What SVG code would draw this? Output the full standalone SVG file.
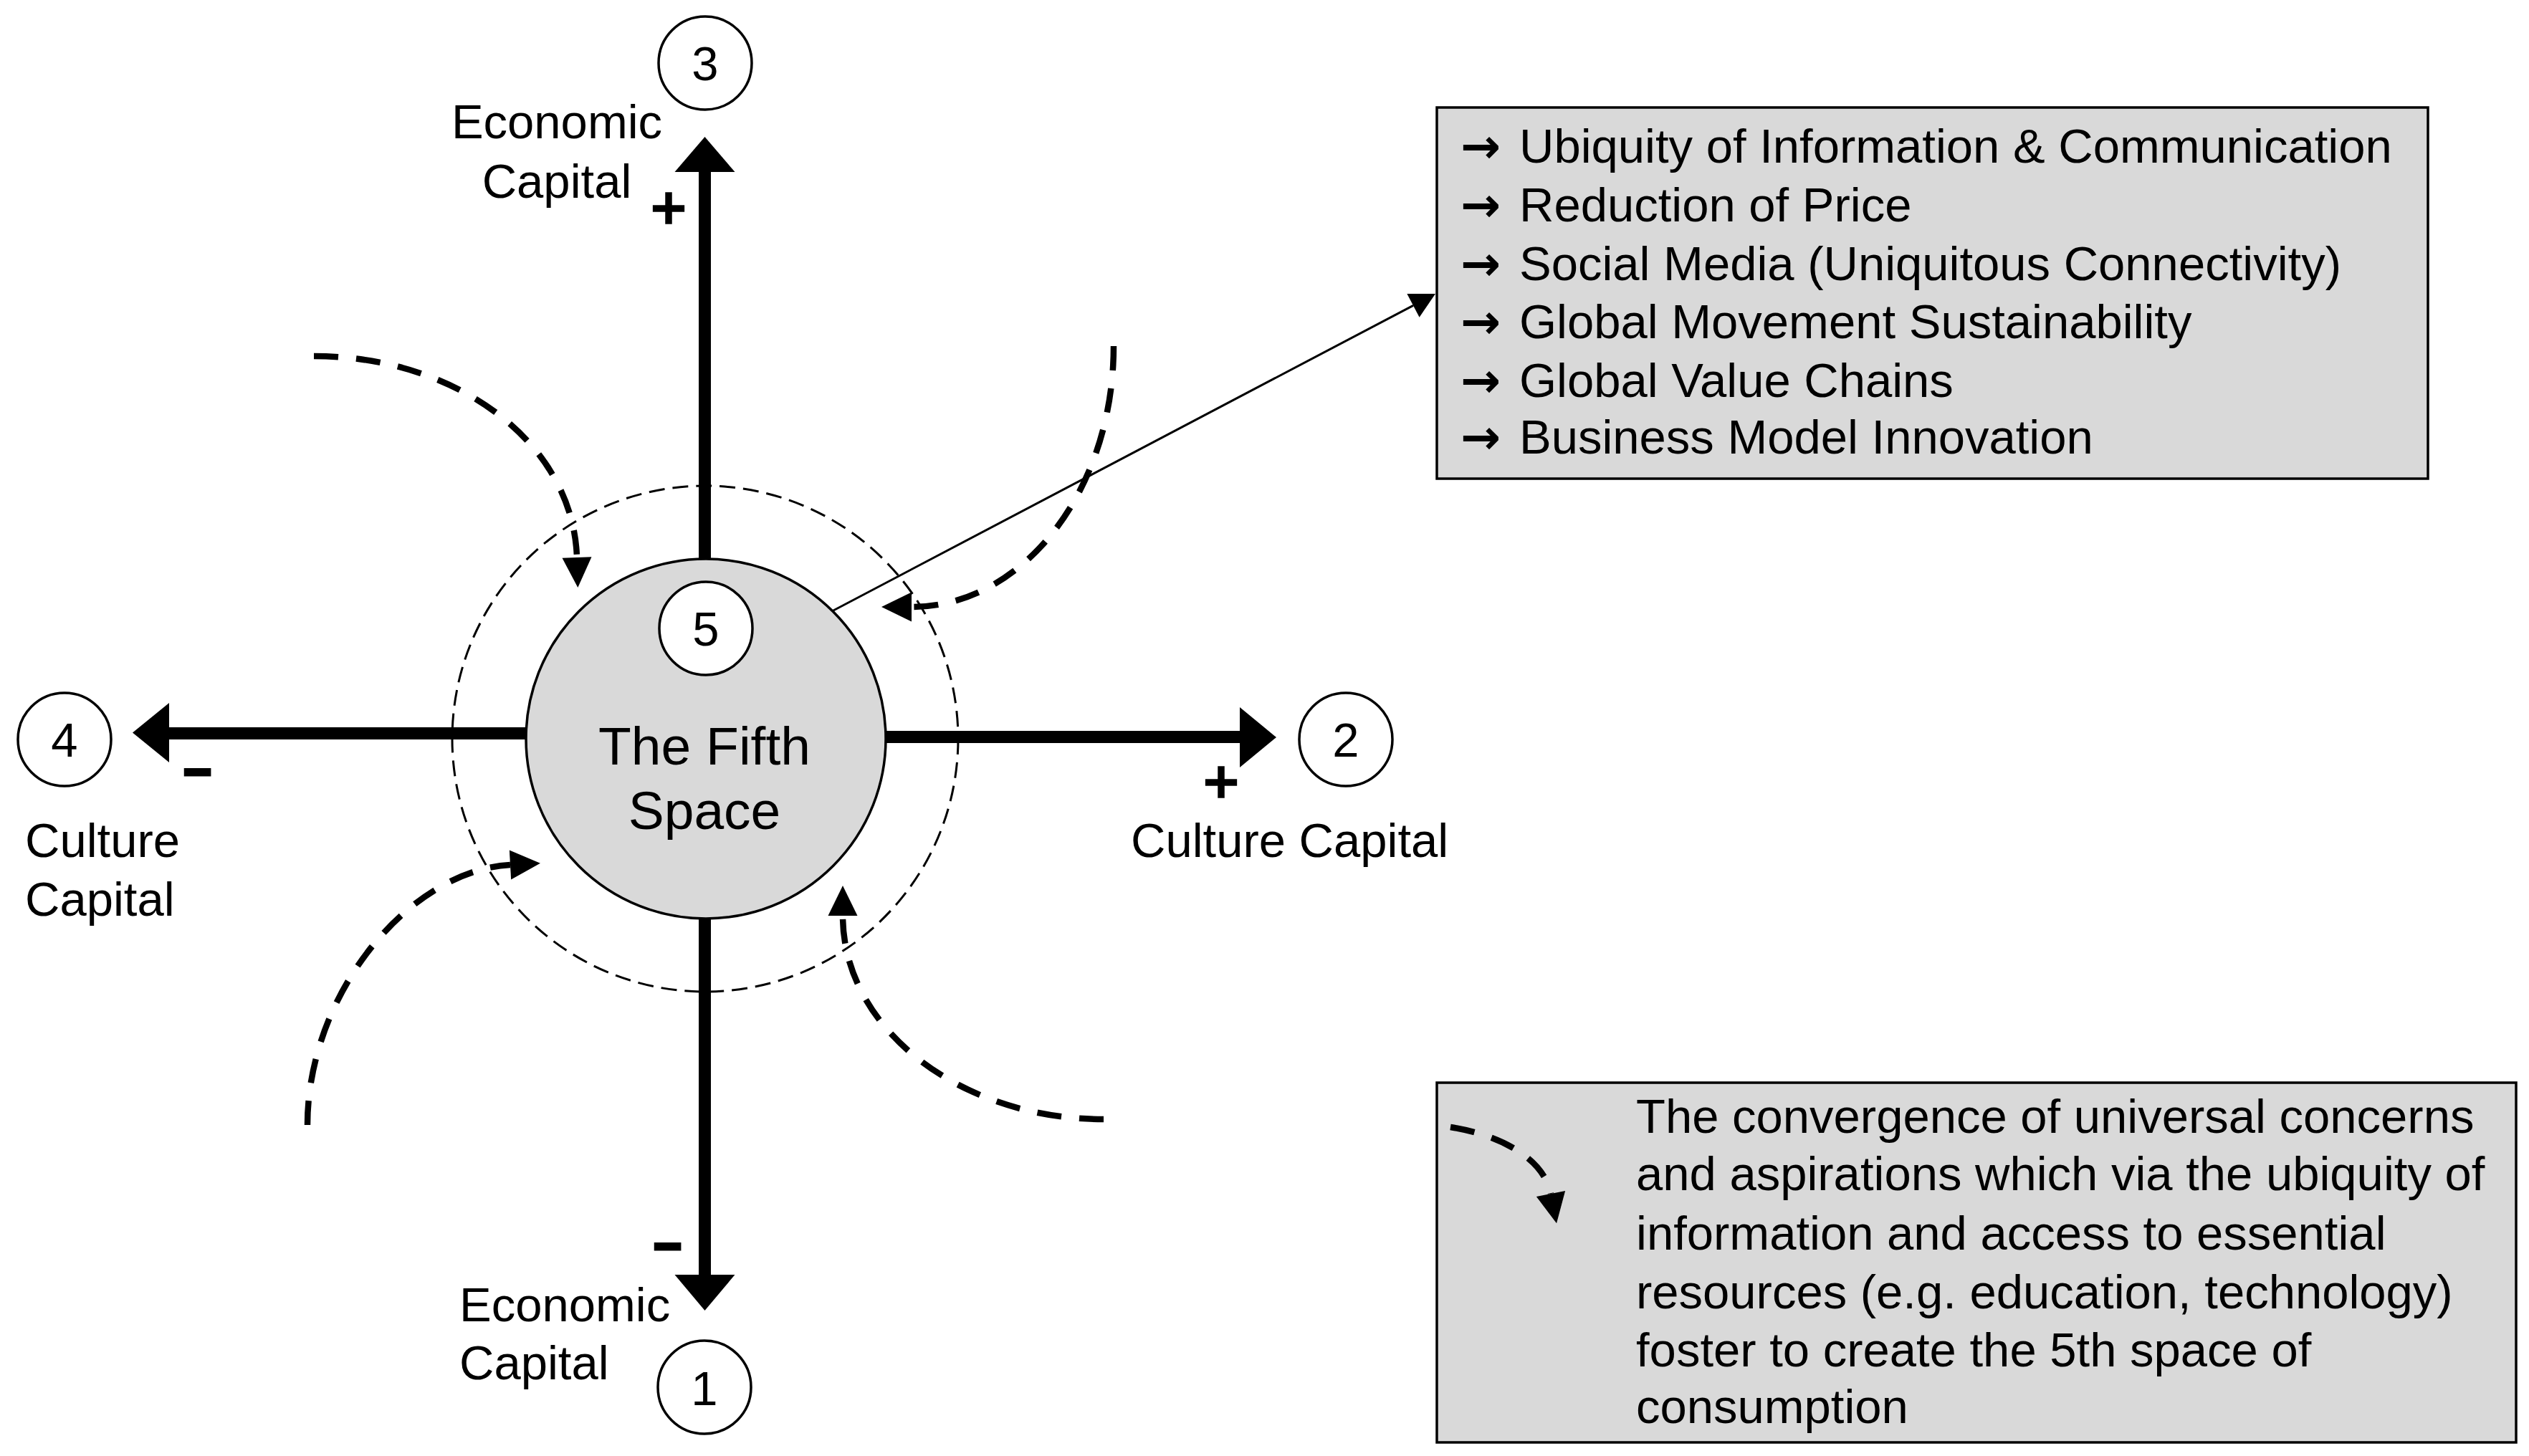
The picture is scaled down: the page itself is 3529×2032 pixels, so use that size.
<svg xmlns="http://www.w3.org/2000/svg" width="3529" height="2032" viewBox="0 0 3529 2032">
<style>
  .t { font-family: "Liberation Sans", Arial, sans-serif; font-size: 67px; fill: #000; }
  .num { font-family: "Liberation Sans", Arial, sans-serif; font-size: 67px; fill: #000; text-anchor: middle; }
  .badge { fill: #fff; stroke: #000; stroke-width: 3.5; }
  .axis { stroke: #000; stroke-width: 17; fill: none; }
  .head { fill: #000; stroke: none; }
  .flow { fill: none; stroke: #000; stroke-width: 8.5; stroke-dasharray: 34 25; }
  .box { fill: #d9d9d9; stroke: #000; stroke-width: 3.5; }
  .plus { font-family: "Liberation Sans", Arial, sans-serif; font-size: 84px; fill: #000; stroke: #000; stroke-width: 3.5; text-anchor: middle; }
  .minus { font-family: "Liberation Sans", Arial, sans-serif; font-size: 66px; font-weight: bold; fill: #000; stroke: #000; stroke-width: 5; text-anchor: middle; }
  .arr { font-family: "DejaVu Sans", sans-serif; font-size: 67px; font-weight: bold; fill: #000; }
</style>
<defs>
  <marker id="fhead" markerUnits="userSpaceOnUse" viewBox="0 -21 43 42" refX="0" refY="0" markerWidth="43" markerHeight="42" orient="auto" overflow="visible">
    <path d="M0,-20.5 L42,0 L0,20.5 z" fill="#000"/>
  </marker>
  <marker id="thead" markerUnits="userSpaceOnUse" viewBox="0 -19 36 38" refX="0" refY="0" markerWidth="36" markerHeight="38" orient="auto" overflow="visible">
    <path d="M0,-18.5 L35,0 L0,18.5 z" fill="#000"/>
  </marker>
</defs>
<rect width="3529" height="2032" fill="#fff"/>

<circle id="outer-ring" cx="984" cy="1031" r="353" fill="none" stroke="#000" stroke-width="3" stroke-dasharray="22 11"/>

<g id="connectors">
  <line class="axis" x1="983.5" y1="782" x2="983.5" y2="238"/>
  <polygon class="head" points="983.5,191 941.5,240 1025.5,240"/>
  <line class="axis" x1="983.5" y1="1280" x2="983.5" y2="1781"/>
  <polygon class="head" points="983.5,1829 941.5,1779 1025.5,1779"/>
  <line class="axis" x1="736" y1="1023.5" x2="234" y2="1023.5"/>
  <polygon class="head" points="185,1022.5 236,981 236,1064"/>
  <line class="axis" x1="1234" y1="1028.5" x2="1732" y2="1028.5"/>
  <polygon class="head" points="1781,1029 1730,987 1730,1071"/>
  <path class="flow" d="M438,497 C640,497 800,620 805,778" marker-end="url(#fhead)"/>
  <path class="flow" d="M1554,483 C1554,684 1428,847 1272,847" marker-end="url(#fhead)"/>
  <path class="flow" d="M429,1570 C429,1388 570,1215 712,1207" marker-end="url(#fhead)"/>
  <path class="flow" d="M1540,1562 C1339,1562 1176,1435 1176,1278" marker-end="url(#fhead)"/>
  <line x1="1161" y1="853" x2="1972" y2="426.3" stroke="#000" stroke-width="3" marker-end="url(#thead)"/>
</g>

<g id="fifth-space">
  <circle cx="985" cy="1031" r="251" fill="#d9d9d9" stroke="#000" stroke-width="3.5"/>
  <text class="num" style="font-size:75px" x="983" y="1067">The Fifth</text>
  <text class="num" style="font-size:75px" x="983" y="1157">Space</text>
</g>

<g id="node-5">
  <circle class="badge" cx="985" cy="877" r="65"/>
  <text class="num" x="985" y="901">5</text>
</g>
<g id="node-3">
  <circle class="badge" cx="984" cy="88" r="65"/>
  <text class="num" x="984" y="112">3</text>
</g>
<g id="node-1">
  <circle class="badge" cx="983" cy="1936" r="65"/>
  <text class="num" x="983" y="1961">1</text>
</g>
<g id="node-2">
  <circle class="badge" cx="1878" cy="1032" r="65"/>
  <text class="num" x="1878" y="1056">2</text>
</g>
<g id="node-4">
  <circle class="badge" cx="90" cy="1032" r="65"/>
  <text class="num" x="90" y="1056">4</text>
</g>

<g id="label-economic-top">
  <text class="num" x="777" y="193">Economic</text>
  <text class="num" x="777" y="276">Capital</text>
  <text class="plus" x="933" y="318">+</text>
</g>
<g id="label-economic-bottom">
  <text class="t" x="641" y="1844">Economic</text>
  <text class="t" x="641" y="1925">Capital</text>
  <text class="minus" x="931.5" y="1758">–</text>
</g>
<g id="label-culture-left">
  <text class="t" x="35" y="1196">Culture</text>
  <text class="t" x="35" y="1278">Capital</text>
  <text class="minus" x="275.5" y="1096">–</text>
</g>
<g id="label-culture-right">
  <text class="t" x="1578" y="1196">Culture Capital</text>
  <text class="plus" x="1704" y="1119">+</text>
</g>

<g id="factors-box">
  <rect class="box" x="2005" y="150" width="1383" height="518"/>
  <text class="arr" x="2038" y="227">→</text><text class="t" x="2120" y="227">Ubiquity of Information &amp; Communication</text>
  <text class="arr" x="2038" y="309">→</text><text class="t" x="2120" y="309">Reduction of Price</text>
  <text class="arr" x="2038" y="391">→</text><text class="t" x="2120" y="391">Social Media (Uniquitous Connectivity)</text>
  <text class="arr" x="2038" y="472">→</text><text class="t" x="2120" y="472">Global Movement Sustainability</text>
  <text class="arr" x="2038" y="554">→</text><text class="t" x="2120" y="554">Global Value Chains</text>
  <text class="arr" x="2038" y="633">→</text><text class="t" x="2120" y="633">Business Model Innovation</text>
</g>

<g id="legend-box">
  <rect class="box" x="2005" y="1511" width="1506" height="502"/>
  <path class="flow" d="M2024,1573 C2100,1585 2155,1620 2164,1666" marker-end="url(#fhead)"/>
  <text class="t" x="2283" y="1581">The convergence of universal concerns</text>
  <text class="t" x="2283" y="1661">and aspirations which via the ubiquity of</text>
  <text class="t" x="2283" y="1744">information and access to essential</text>
  <text class="t" x="2283" y="1826">resources (e.g. education, technology)</text>
  <text class="t" x="2283" y="1907">foster to create the 5th space of</text>
  <text class="t" x="2283" y="1986">consumption</text>
</g>
</svg>
